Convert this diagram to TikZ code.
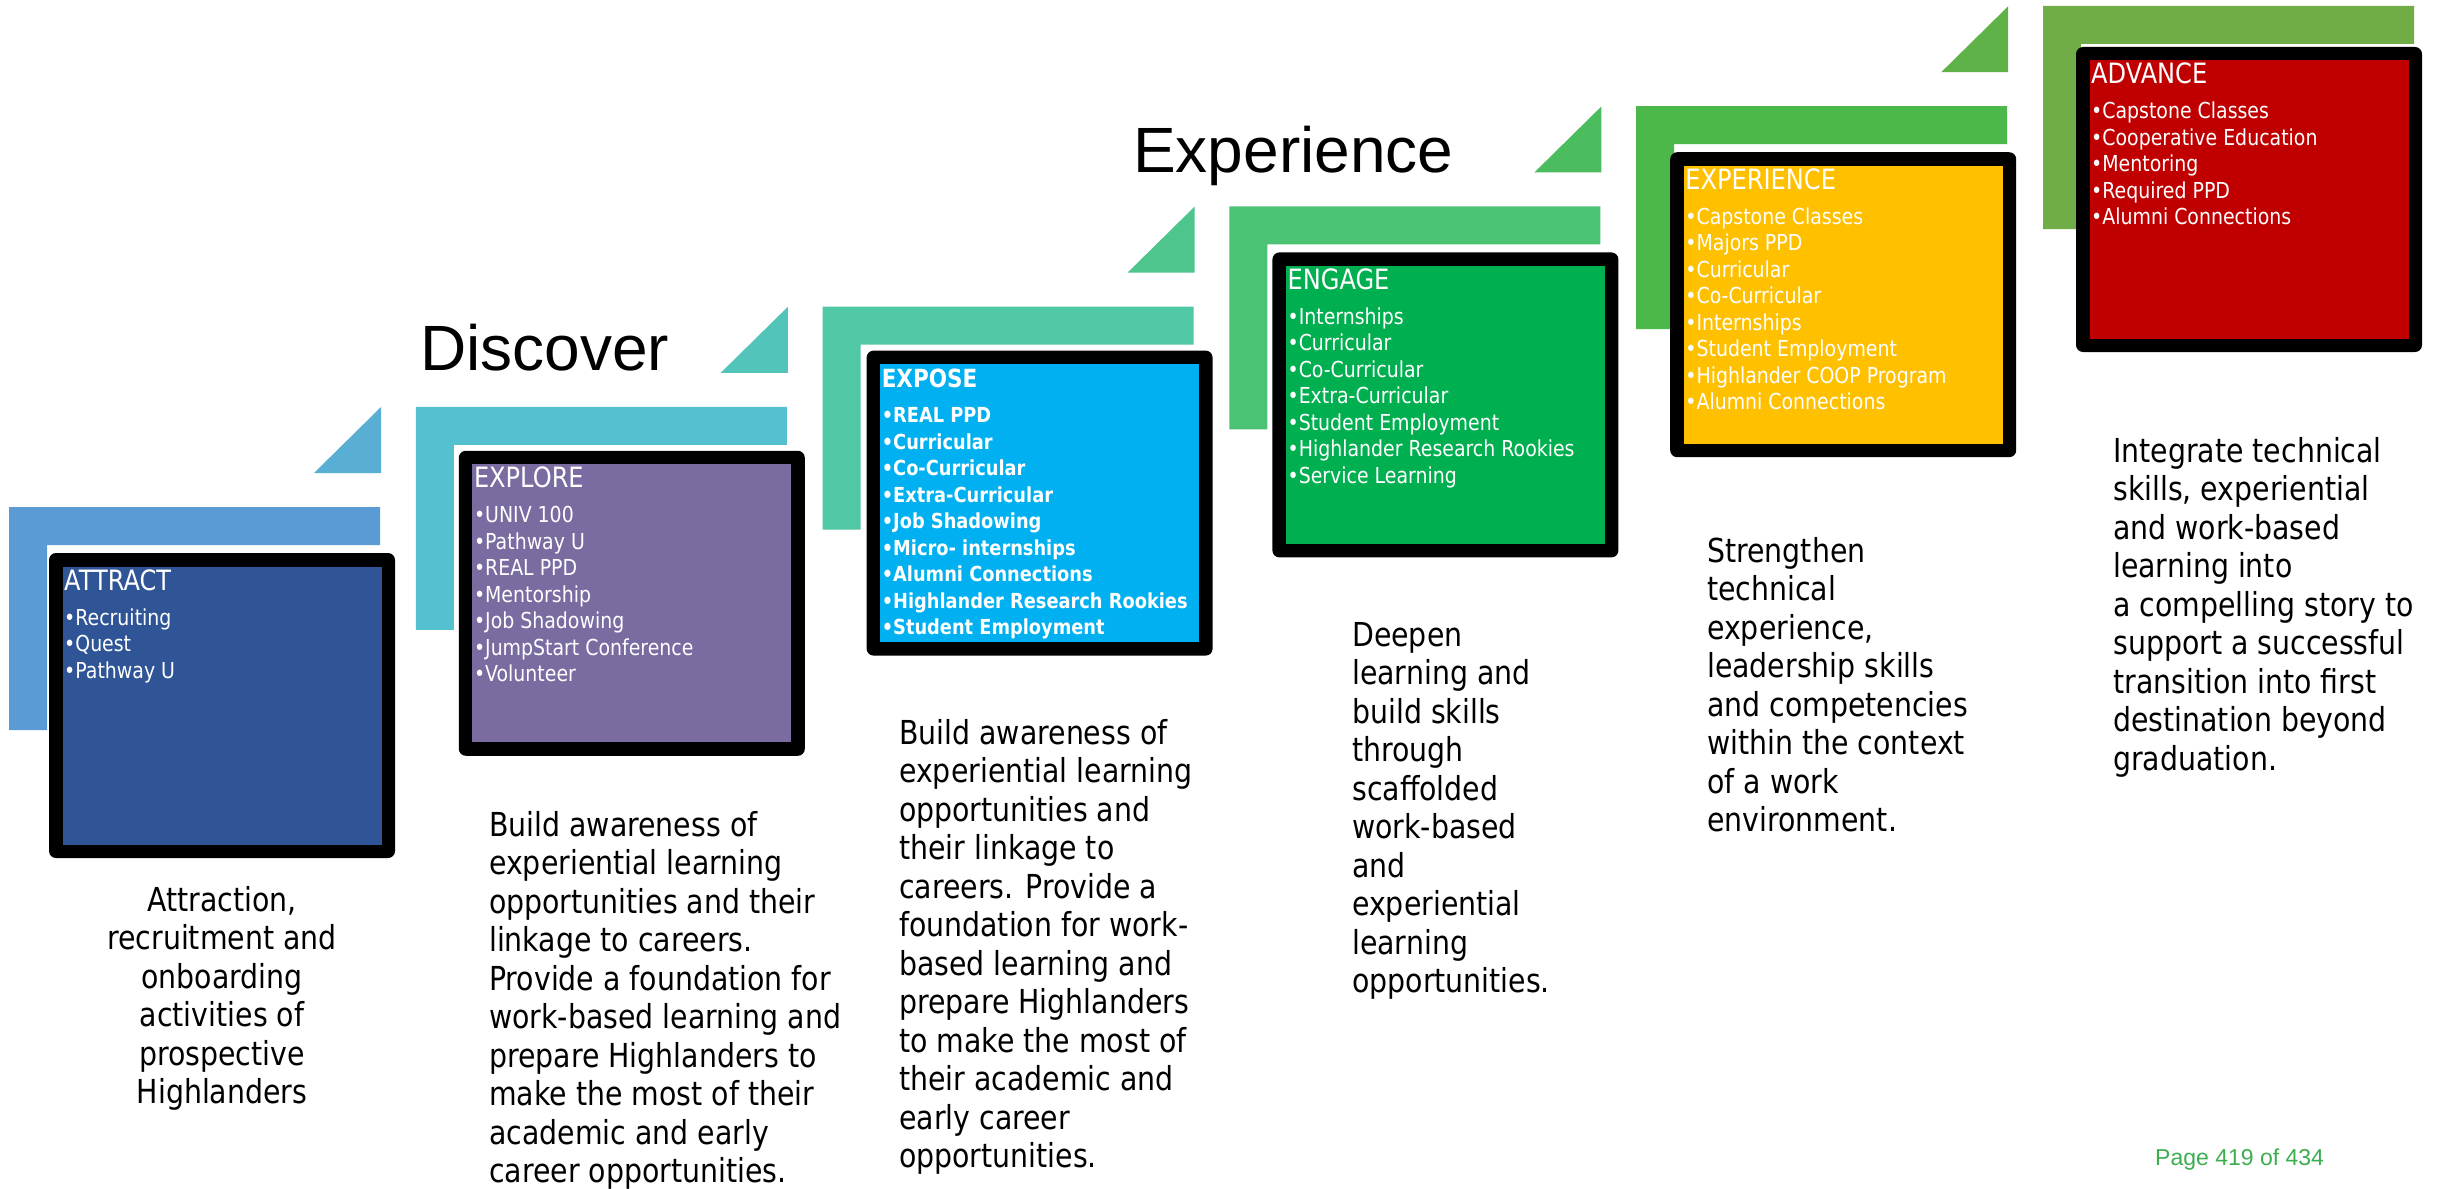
\documentclass[tikz,border=0pt]{standalone}
\usepackage{fontspec}
\setmainfont[FakeStretch=0.86]{DejaVu Sans}
\newfontfamily\arialfont{Liberation Sans}
\definecolor{Lone}{HTML}{5B9BD5}
\definecolor{Ltwo}{HTML}{55C1D0}
\definecolor{Lthree}{HTML}{50C7A5}
\definecolor{Lfour}{HTML}{4CC274}
\definecolor{Lfive}{HTML}{4BB849}
\definecolor{Lsix}{HTML}{70AD47}
\colorlet{Tone}{Lone!50!Ltwo}
\colorlet{Ttwo}{Ltwo!50!Lthree}
\colorlet{Tthree}{Lthree!50!Lfour}
\colorlet{Tfour}{Lfour!50!Lfive}
\colorlet{Tfive}{Lfive!50!Lsix}
\definecolor{Fone}{HTML}{2F5597}
\definecolor{Ftwo}{HTML}{7A6BA1}
\definecolor{Fthree}{HTML}{00B0F0}
\definecolor{Ffour}{HTML}{00AF50}
\definecolor{Ffive}{HTML}{FFC000}
\definecolor{Fsix}{HTML}{C00000}
\definecolor{pagegreen}{HTML}{3DAE4F}
\tikzset{
  outerbox/.style={fill=black, rounded corners=7pt, minimum width=346pt, minimum height=305pt, inner sep=0pt, outer sep=0pt, anchor=north west},
  innerbox/.style={minimum width=319pt, minimum height=278pt, inner sep=0pt, outer sep=0pt},
  boxtitle/.style={text=white, anchor=base west, inner sep=0pt, font=\fontsize{28}{30}\selectfont},
  boxlist/.style={text=white, anchor=base west, inner sep=0pt, font=\fontsize{22}{26.5}\selectfont},
  desc/.style={text=black, inner sep=0pt, font=\fontsize{33}{38.5}\selectfont},
  stagelabel/.style={anchor=base west, inner sep=0pt, font=\arialfont\fontsize{64}{70}\selectfont},
}
% #1 idx, #2 ox, #3 oy, #4 dx, #5 dy, #6 fill, #7 L colour, #8 title, #9 bullets
\newcommand\mystage[9]{%
  \fill[#7] ({#2},{#3}) -- ++(371,0) -- ++(0,38) -- ++(-333,0) -- ++(0,185) -- ++(-38,0) -- cycle;
  \node[outerbox] (box#1) at ({#2+#4},{#3+#5}) {};
  \node[innerbox, fill=#6] (in#1) at (box#1.center) {};
  \node[boxtitle] (title#1) at ([xshift=15pt,yshift=-37pt]box#1.north west) {#8};
  \node[boxlist] (list#1) at ([xshift=15pt,yshift=-72pt]box#1.north west) {\parbox[t]{330pt}{\raggedright #9}};
}
\newcommand\mytri[3]{%
  \fill[#3] ({#1+372},{#2-100}) -- ({#1+372},{#2-34}) -- ({#1+305},{#2-34}) -- cycle;
}
\begin{document}
\begin{tikzpicture}[x=1pt,y=-1pt]
\useasboundingbox[fill=white] (0,0) rectangle (2440,1188);

\mytri{9}{507}{Tone}
\mytri{415.8}{406.8}{Ttwo}
\mytri{822.6}{306.6}{Tthree}
\mytri{1229.4}{206.4}{Tfour}
\mytri{1636.2}{106.2}{Tfive}

\mystage{1}{9}{507}{40}{46}{Fone}{Lone}{ATTRACT}{•Recruiting\\•Quest\\•Pathway U}
\mystage{2}{415.8}{406.8}{43}{44}{Ftwo}{Ltwo}{EXPLORE}{•UNIV 100\\•Pathway U\\•REAL PPD\\•Mentorship\\•Job Shadowing\\•JumpStart Conference\\•Volunteer}
\mystage{3}{822.6}{306.6}{44}{44}{Fthree}{Lthree}{\fontsize{25}{30}\selectfont\bfseries EXPOSE}{\fontsize{20.7}{26.5}\selectfont\bfseries •REAL PPD\\•Curricular\\•Co-Curricular\\•Extra-Curricular\\•Job Shadowing\\•Micro- internships\\•Alumni Connections\\•Highlander Research Rookies\\•Student Employment}
\mystage{4}{1229.4}{206.4}{43}{46}{Ffour}{Lfour}{ENGAGE}{•Internships\\•Curricular\\•Co-Curricular\\•Extra-Curricular\\•Student Employment\\•Highlander Research Rookies\\•Service Learning}
\mystage{5}{1636.2}{106.2}{34}{46}{Ffive}{Lfive}{EXPERIENCE}{•Capstone Classes\\•Majors PPD\\•Curricular\\•Co-Curricular\\•Internships\\•Student Employment\\•Highlander COOP Program\\•Alumni Connections}
\mystage{6}{2043}{6}{33}{41}{Fsix}{Lsix}{ADVANCE}{•Capstone Classes\\•Cooperative Education\\•Mentoring\\•Required PPD\\•Alumni Connections}

\node[stagelabel] (discover) at (420,370) {Discover};
\node[stagelabel] (experience) at (1133,172) {Experience};

\node[desc, anchor=base] (desc1) at (222,911) {\parbox[t]{320pt}{\centering Attraction,\\recruitment and\\onboarding\\activities of\\prospective\\Highlanders}};
\node[desc, anchor=base west] (desc2) at (489,836) {\parbox[t]{400pt}{\raggedright Build awareness of\\experiential learning\\opportunities and their\\linkage to careers.\\Provide a foundation for\\work-based learning and\\prepare Highlanders to\\make the most of their\\academic and early\\career opportunities.}};
\node[desc, anchor=base west] (desc3) at (899,744) {\parbox[t]{400pt}{\raggedright Build awareness of\\experiential learning\\opportunities and\\their linkage to\\careers. Provide a\\foundation for work-\\based learning and\\prepare Highlanders\\to make the most of\\their academic and\\early career\\opportunities.}};
\node[desc, anchor=base west] (desc4) at (1352,646) {\parbox[t]{300pt}{\raggedright Deepen\\learning and\\build skills\\through\\scaffolded\\work-based\\and\\experiential\\learning\\opportunities.}};
\node[desc, anchor=base west] (desc5) at (1707,562) {\parbox[t]{320pt}{\raggedright Strengthen\\technical\\experience,\\leadership skills\\and competencies\\within the context\\of a work\\environment.}};
\node[desc, anchor=base west] (desc6) at (2113,462) {\parbox[t]{330pt}{\raggedright Integrate technical\\skills, experiential\\and work-based\\learning into\\a compelling story to\\support a successful\\transition into first\\destination beyond\\graduation.}};

\node[anchor=base west, inner sep=0pt, text=pagegreen, font=\arialfont\fontsize{23}{26}\selectfont] (page) at (2155,1165) {Page 419 of 434};
\end{tikzpicture}
\end{document}
